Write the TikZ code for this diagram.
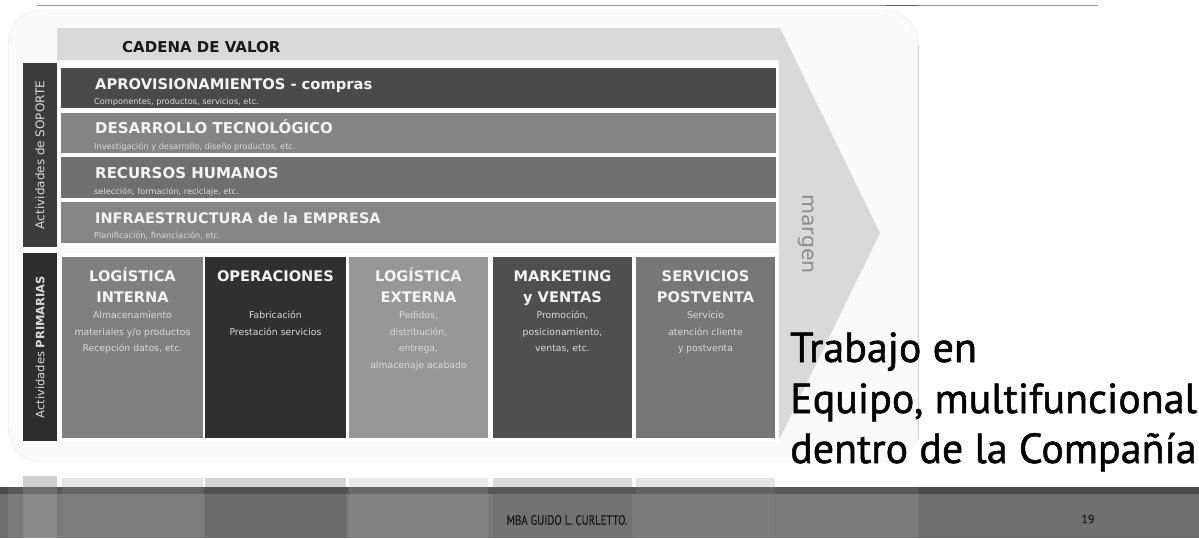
\documentclass[tikz,border=0pt]{standalone}
\usepackage{fontspec}
\setmainfont{DejaVu Sans}
\newfontfamily\ptsans{PT Sans}
\newfontfamily\ptheavy{PT Sans}[FakeBold=1.2]
\newfontfamily\ptfoot{PT Sans}[FakeBold=0.6]
\usetikzlibrary{positioning}
\definecolor{hdr}{HTML}{D9D9D9}
\definecolor{labA}{HTML}{3B3B3B}
\definecolor{labB}{HTML}{2D2D2D}
\definecolor{rA}{HTML}{4A4A4A}
\definecolor{rB}{HTML}{848484}
\definecolor{rC}{HTML}{6F6F6F}
\definecolor{rD}{HTML}{868686}
\definecolor{cA}{HTML}{808080}
\definecolor{cB}{HTML}{303030}
\definecolor{cC}{HTML}{979797}
\definecolor{cD}{HTML}{4F4F4F}
\definecolor{cE}{HTML}{777777}
\definecolor{ttxt}{HTML}{F4F4F4}
\definecolor{stxt}{HTML}{DADADA}
\definecolor{foot}{HTML}{6F6F6F}
\definecolor{footdark}{HTML}{4A4A4A}
\begin{document}
\begin{tikzpicture}[x=1pt,y=-1pt,
  rowtitle/.style={anchor=base west, inner sep=0pt, text=ttxt, font=\bfseries\fontsize{15}{15}\selectfont},
  rowsub/.style={anchor=base west, inner sep=0pt, text=stxt, font=\fontsize{8.2}{8.2}\selectfont},
  coltitle/.style={anchor=base, inner sep=0pt, text=ttxt, font=\bfseries\fontsize{14.6}{14.6}\selectfont},
  colsub/.style={anchor=base, inner sep=0pt, text=stxt, font=\fontsize{9.3}{9.3}\selectfont},
  vlabel/.style={rotate=90, inner sep=0pt, text=stxt},
  bigtxt/.style={anchor=base west, inner sep=0pt, text=black, font=\ptheavy\fontsize{42}{42}\selectfont},
  small/.style={inner sep=0pt, text=black!90, font=\ptfoot\fontsize{13.5}{13.5}\selectfont}
]
\useasboundingbox (0,0) rectangle (1199,538);
\fill[white] (0,0) rectangle (1199,538);
% top rule
\draw[black!40, line width=1.2pt] (37,5.5) -- (1098,5.5);
\draw[black!65, line width=1.2pt] (886,5.5) -- (919,5.5);
% panel
\path[fill=black!2, draw=black!8, rounded corners=34pt] (8,10) rectangle (918,462);
\draw[black!18, line width=0.8pt] (918,45) -- (918,440);
% chevron / header
\fill[hdr] (57,28) -- (780,28) -- (880,233) -- (779,440) -- (779,60) -- (57,60) -- cycle;
\node[anchor=base west, inner sep=0pt, text=black!90, font=\bfseries\fontsize{15}{15}\selectfont] (cad) at (122,52.5) {CADENA DE VALOR};
\node[rotate=-90, inner sep=0pt, text=black!45, font=\fontsize{20.5}{20.5}\selectfont] (mar) at (806,234) {margen};
% support activities
\fill[labA] (23,63) rectangle (57,247);
\node[vlabel, font=\fontsize{12}{12}\selectfont] (sop) at (40,155) {Actividades de SOPORTE};
\fill[white] (58,63) rectangle (779,247);
\fill[rA] (61,68) rectangle (776,108);
\fill[rB] (61,113) rectangle (776,153);
\fill[rC] (61,157) rectangle (776,198);
\fill[rD] (61,202) rectangle (776,243);
\node[rowtitle, font=\bfseries\fontsize{14.7}{14.7}\selectfont] (t1) at (95,89) {APROVISIONAMIENTOS - compras};
\node[rowsub] (s1) at (94,104) {Componentes, productos, servicios, etc.};
\node[rowtitle] (t2) at (95,133) {DESARROLLO TECNOLÓGICO};
\node[rowsub] (s2) at (94,149) {Investigación y desarrollo, diseño productos, etc.};
\node[rowtitle] (t3) at (95,178.5) {RECURSOS HUMANOS};
\node[rowsub] (s3) at (94,194) {selección, formación, reciclaje, etc.};
\node[rowtitle, font=\bfseries\fontsize{14.5}{14.5}\selectfont] (t4) at (95,223) {INFRAESTRUCTURA de la EMPRESA};
\node[rowsub] (s4) at (94,238) {Planificación, financiación, etc.};
% primary activities
\fill[labB] (23,253) rectangle (57,441);
\node[vlabel, font=\fontsize{11.5}{11.5}\selectfont] (pri) at (40,347) {Actividades \textbf{PRIMARIAS}};
\fill[white] (58,253) rectangle (779,441);
\fill[cA] (62,257) rectangle (203,438);
\fill[cB] (205,257) rectangle (346,438);
\fill[cC] (349,257) rectangle (488,438);
\fill[cD] (493,257) rectangle (632,438);
\fill[cE] (636,257) rectangle (775,438);
% column 1
\node[coltitle] (a1) at (132.5,281) {LOGÍSTICA};
\node[coltitle] (a2) at (132.5,302) {INTERNA};
\node[colsub] (a3) at (132.5,318) {Almacenamiento};
\node[colsub] (a4) at (132.5,335) {materiales y/o productos};
\node[colsub] (a5) at (132.5,351) {Recepción datos, etc.};
% column 2
\node[coltitle] (b1) at (275.5,281) {OPERACIONES};
\node[colsub] (b3) at (275.5,318) {Fabricación};
\node[colsub] (b4) at (275.5,335) {Prestación servicios};
% column 3
\node[coltitle] (c1) at (418.5,281) {LOGÍSTICA};
\node[coltitle] (c2) at (418.5,302) {EXTERNA};
\node[colsub] (c3) at (418.5,318) {Pedidos,};
\node[colsub] (c4) at (418.5,335) {distribución,};
\node[colsub] (c5) at (418.5,351) {entrega,};
\node[colsub] (c6) at (418.5,368) {almacenaje acabado};
% column 4
\node[coltitle] (d1) at (562.5,281) {MARKETING};
\node[coltitle] (d2) at (562.5,302) {y VENTAS};
\node[colsub] (d3) at (562.5,318) {Promoción,};
\node[colsub] (d4) at (562.5,335) {posicionamiento,};
\node[colsub] (d5) at (562.5,351) {ventas, etc.};
% column 5
\node[coltitle] (e1) at (705.5,281) {SERVICIOS};
\node[coltitle] (e2) at (705.5,302) {POSTVENTA};
\node[colsub] (e3) at (705.5,318) {Servicio};
\node[colsub] (e4) at (705.5,335) {atención cliente};
\node[colsub] (e5) at (705.5,351) {y postventa};
% reflection above footer
\fill[labB, opacity=0.22] (23,476) rectangle (57,538);
\fill[cA, opacity=0.2] (62,478) rectangle (203,538);
\fill[cB, opacity=0.2] (205,478) rectangle (346,538);
\fill[cC, opacity=0.2] (349,478) rectangle (488,538);
\fill[cD, opacity=0.2] (493,478) rectangle (632,538);
\fill[cE, opacity=0.2] (636,478) rectangle (775,538);
% footer
\fill[foot] (0,487) rectangle (1199,538);
\fill[footdark] (0,487) rectangle (1199,494);
\fill[white, opacity=0.12] (23,487) rectangle (57,538);
\fill[cA, opacity=0.25] (62,487) rectangle (203,538);
\fill[cB, opacity=0.25] (205,487) rectangle (346,538);
\fill[cC, opacity=0.25] (349,487) rectangle (488,538);
\fill[cD, opacity=0.25] (493,487) rectangle (632,538);
\fill[cE, opacity=0.25] (636,487) rectangle (775,538);
\fill[white, opacity=0.08] (8,487) rectangle (918,538);
\node[small] (mba) at (567,520) {\scalebox{0.8}[1]{MBA GUIDO L. CURLETTO.}};
\node[small, font=\ptfoot\fontsize{12}{12}\selectfont] (pg) at (1088,519) {19};
% right text
\node[bigtxt] (w1) at (790,362) {Trabajo en};
\node[bigtxt] (w2) at (790,413) {Equipo, multifuncional};
\node[bigtxt] (w3) at (790,463) {dentro de la Compañía};
\end{tikzpicture}
\end{document}
